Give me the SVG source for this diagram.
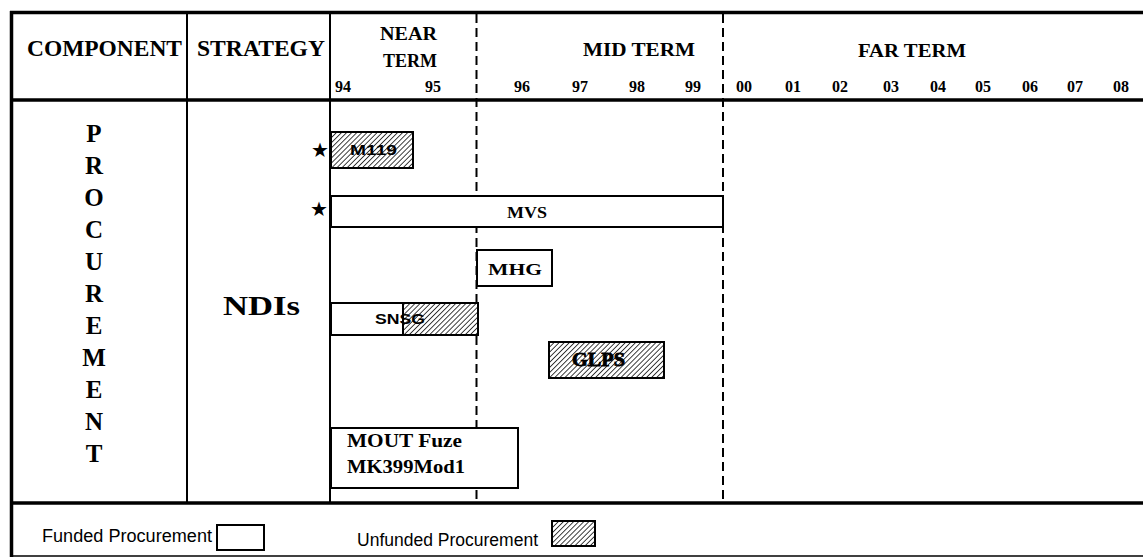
<svg xmlns="http://www.w3.org/2000/svg" width="1143" height="559" viewBox="0 0 1143 559">
<defs>
<pattern id="hatch" patternUnits="userSpaceOnUse" width="3.6" height="3.6" patternTransform="rotate(45)">
<rect width="3.6" height="3.6" fill="#fff"/>
<line x1="0" y1="0" x2="0" y2="3.6" stroke="#000" stroke-width="1.5"/>
</pattern>
<style>
.serif{font-family:"Liberation Serif","DejaVu Serif",serif;font-weight:bold;fill:#000}
.sans{font-family:"Liberation Sans",Arial,sans-serif;fill:#000}
.hdr{font-size:23px}
.term{font-size:18px}
.yr{font-size:16px;text-anchor:middle}
.letter{font-size:25px;text-anchor:middle}
.bar{fill:#fff;stroke:#000;stroke-width:2}
.hbar{fill:url(#hatch);stroke:#000;stroke-width:2}
.thick{stroke:#000;stroke-width:3.5;fill:none}
.thin{stroke:#000;stroke-width:2;fill:none}
.dash{stroke:#000;stroke-width:2;stroke-dasharray:9 5;fill:none}
.star{font-family:"DejaVu Sans",sans-serif;font-size:20px;text-anchor:middle;fill:#000}
</style>
</defs>
<rect width="1143" height="559" fill="#fff"/>

<g id="grid">
<line class="thick" x1="10" y1="12.5" x2="1143" y2="12.5"/>
<line class="thick" x1="10" y1="100" x2="1143" y2="100"/>
<line class="thick" x1="10" y1="503" x2="1143" y2="503"/>
<line stroke="#000" stroke-width="1.5" x1="10" y1="556" x2="1143" y2="556"/>
<line class="thick" x1="11.5" y1="11" x2="11.5" y2="557"/>
<line class="thin" x1="187" y1="12" x2="187" y2="503"/>
<line class="thin" x1="330" y1="12" x2="330" y2="503"/>
<line class="dash" x1="476.5" y1="14" x2="476.5" y2="503"/>
<line class="dash" x1="723" y1="14" x2="723" y2="503"/>
</g>

<g id="header">
<text class="serif hdr" x="27" y="56" textLength="155" lengthAdjust="spacingAndGlyphs">COMPONENT</text>
<text class="serif hdr" x="197" y="56" textLength="128" lengthAdjust="spacingAndGlyphs">STRATEGY</text>
<text class="serif term" x="380" y="40" textLength="57" lengthAdjust="spacingAndGlyphs">NEAR</text>
<text class="serif term" x="383" y="67" textLength="54" lengthAdjust="spacingAndGlyphs">TERM</text>
<text class="serif term" x="583" y="56" textLength="112" lengthAdjust="spacingAndGlyphs">MID TERM</text>
<text class="serif term" x="858" y="57" textLength="108" lengthAdjust="spacingAndGlyphs">FAR TERM</text>
<g class="serif yr">
<text x="343" y="92">94</text>
<text x="433" y="92">95</text>
<text x="522" y="92">96</text>
<text x="580" y="92">97</text>
<text x="637" y="92">98</text>
<text x="693" y="92">99</text>
<text x="744" y="92">00</text>
<text x="793" y="92">01</text>
<text x="840" y="92">02</text>
<text x="891" y="92">03</text>
<text x="938" y="92">04</text>
<text x="983" y="92">05</text>
<text x="1030" y="92">06</text>
<text x="1075" y="92">07</text>
<text x="1121" y="92">08</text>
</g>
</g>

<g id="component">
<g class="serif letter">
<text x="94" y="142">P</text>
<text x="94" y="174">R</text>
<text x="94" y="206">O</text>
<text x="94" y="238">C</text>
<text x="94" y="270">U</text>
<text x="94" y="302">R</text>
<text x="94" y="334">E</text>
<text x="94" y="366">M</text>
<text x="94" y="398">E</text>
<text x="94" y="430">N</text>
<text x="94" y="462">T</text>
</g>
</g>

<g id="strategy">
<text class="serif" font-size="28" x="223" y="315" textLength="77" lengthAdjust="spacingAndGlyphs">NDIs</text>
</g>

<g id="m119">
<text class="star" x="320" y="157">★</text>
<rect class="hbar" x="331" y="132" width="82" height="36"/>
<text class="sans" font-weight="bold" font-size="14" x="350" y="155" textLength="47" lengthAdjust="spacingAndGlyphs">M119</text>
</g>

<g id="mvs">
<text class="star" x="319" y="216">★</text>
<rect class="bar" x="331" y="196" width="392" height="31"/>
<text class="serif" font-size="16" x="507" y="218" textLength="40" lengthAdjust="spacingAndGlyphs">MVS</text>
</g>

<g id="mhg">
<rect class="bar" x="477" y="250" width="75" height="36"/>
<text class="serif" font-size="17" x="488" y="275" textLength="54" lengthAdjust="spacingAndGlyphs">MHG</text>
</g>

<g id="snsg">
<rect class="bar" x="331" y="303" width="72" height="32"/>
<rect class="hbar" x="403" y="303" width="75" height="32"/>
<text class="sans" font-weight="bold" font-size="14" x="375" y="324" textLength="50" lengthAdjust="spacingAndGlyphs">SNSG</text>
</g>

<g id="glps">
<rect class="hbar" x="549" y="342" width="115" height="36"/>
<text class="serif" font-size="19" x="572" y="366" textLength="53" lengthAdjust="spacingAndGlyphs" fill="url(#hatch)" stroke="#000" stroke-width="0.8">GLPS</text>
</g>

<g id="mout">
<rect class="bar" x="331" y="428" width="187" height="60"/>
<text class="serif" font-size="19" x="347" y="447" textLength="115" lengthAdjust="spacingAndGlyphs">MOUT Fuze</text>
<text class="serif" font-size="19" x="347" y="473" textLength="118" lengthAdjust="spacingAndGlyphs">MK399Mod1</text>
</g>

<g id="legend">
<text class="sans" font-size="18" x="42" y="542" textLength="170" lengthAdjust="spacingAndGlyphs">Funded Procurement</text>
<rect class="bar" x="217" y="525" width="47" height="25"/>
<text class="sans" font-size="18" x="357" y="546" textLength="181" lengthAdjust="spacingAndGlyphs">Unfunded Procurement</text>
<rect class="hbar" x="552" y="521" width="43" height="25"/>
</g>
</svg>
